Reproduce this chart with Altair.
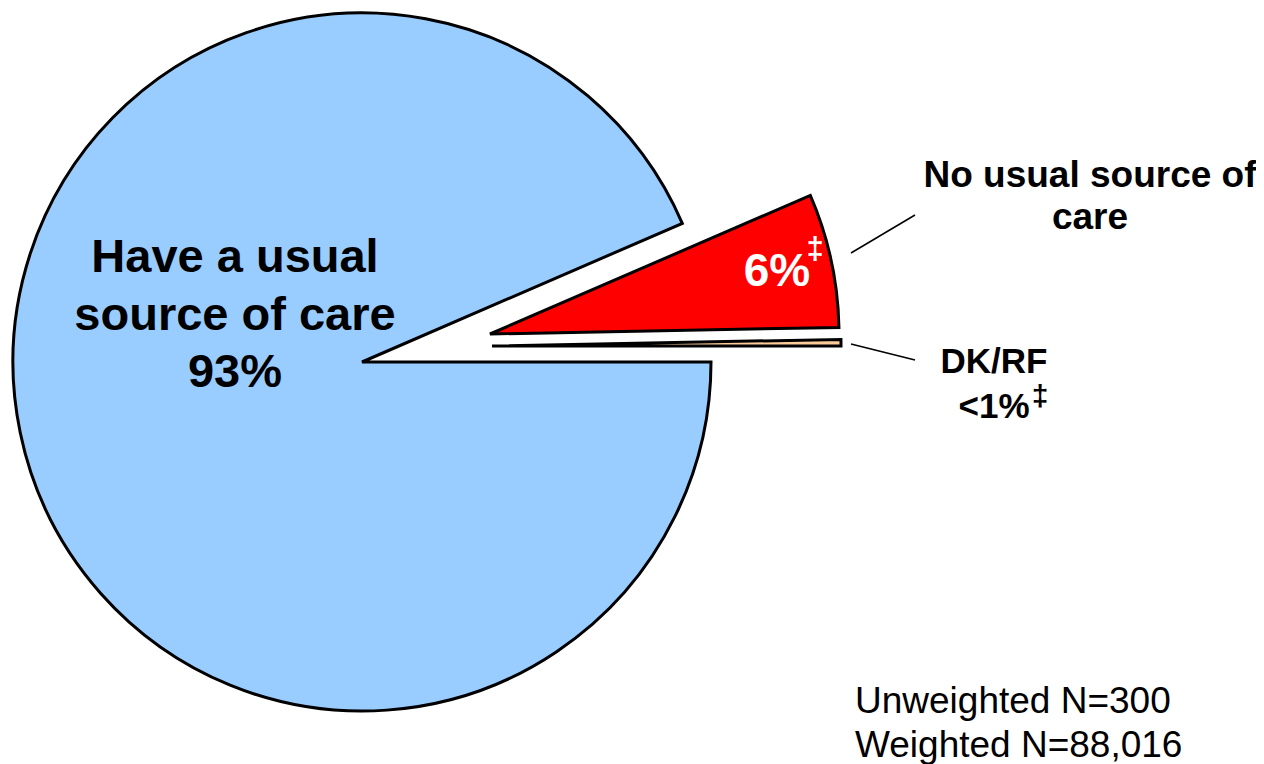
import math
import altair as alt
import pandas as pd

# ---- data ----
categories = ["No usual source of care", "DK/RF", "Have a usual source of care"]
values = [6.2, 0.3, 93.5]
colors = ["#FF0000", "#FFCC99", "#99CCFF"]

big_label_lines = ["Have a usual", "source of care", "93%"]
red_label = "6%"
nousual_lines = ["No usual source of", "care"]
dk_lines = ["DK/RF", "<1%"]
dagger = "\u2021"
footnote_lines = ["Unweighted N=300", "Weighted N=88,016"]

df = pd.DataFrame({"category": categories, "value": values, "order": [0, 1, 2]})

M = 8  # page margin
def px(v):
    return v - M

theta0 = math.radians(90 - 23.4)
theta_scale = alt.Scale(domain=[0, 100], range=[theta0, theta0 + 2 * math.pi])
color_scale = alt.Scale(domain=categories, range=colors)

base = (
    alt.Chart(df)
    .transform_window(cum="sum(value)", sort=[alt.SortField("order")], frame=[None, 0])
    .transform_calculate(start="datum.cum - datum.value")
)

centers = {
    "Have a usual source of care": (362, 362),
    "No usual source of care": (490, 334),
    "DK/RF": (492, 346),
}

layers = []
for cat in categories:
    cx, cy = centers[cat]
    layers.append(
        base.transform_filter(alt.datum.category == cat)
        .mark_arc(radius=349, stroke="black", strokeWidth=3, strokeJoin="miter")
        .encode(
            theta=alt.Theta("start:Q", scale=theta_scale),
            theta2="cum:Q",
            x=alt.value(px(cx)),
            y=alt.value(px(cy)),
            color=alt.Color("category:N", scale=color_scale, legend=None),
        )
    )

def text_layer(txt, x, y, size, color="black", weight="bold", align="center"):
    return (
        alt.Chart(pd.DataFrame({"t": [txt]}))
        .mark_text(
            font="Liberation Sans",
            fontSize=size,
            fontWeight=weight,
            color=color,
            align=align,
            baseline="alphabetic",
        )
        .encode(text="t:N", x=alt.value(px(x)), y=alt.value(px(y)))
    )

texts = []
for line, yb in zip(big_label_lines, [272, 330, 387]):
    texts.append(text_layer(line, 235, yb, 47))
texts.append(text_layer(red_label, 777, 286, 46, color="white"))
texts.append(text_layer(dagger, 815, 259, 31, color="white"))
for line, yb in zip(nousual_lines, [187, 229]):
    texts.append(text_layer(line, 1090, yb, 37))
texts.append(text_layer(dk_lines[0], 994, 373, 35))
texts.append(text_layer(dk_lines[1], 994, 418, 35))
texts.append(text_layer(dagger, 1040, 406, 30))
for line, yb in zip(footnote_lines, [713, 757]):
    texts.append(text_layer(line, 855, yb, 37, weight="normal", align="left"))

leaders = []
for (x1, y1, x2, y2) in [(851, 253, 915, 215), (851, 344, 915, 360)]:
    leaders.append(
        alt.Chart(pd.DataFrame({"k": [0]}))
        .mark_rule(color="black", strokeWidth=1.5)
        .encode(
            x=alt.value(px(x1)), y=alt.value(px(y1)),
            x2=alt.value(px(x2)), y2=alt.value(px(y2)),
        )
    )

chart = (
    alt.layer(*layers, *leaders, *texts)
    .properties(width=1248, height=756, autosize=alt.AutoSizeParams(type="none"), padding=0)
    .configure_view(stroke=None)
    .resolve_scale(theta="shared")
)

chart.save("out.html", embed_options={"renderer": "svg", "actions": False})
